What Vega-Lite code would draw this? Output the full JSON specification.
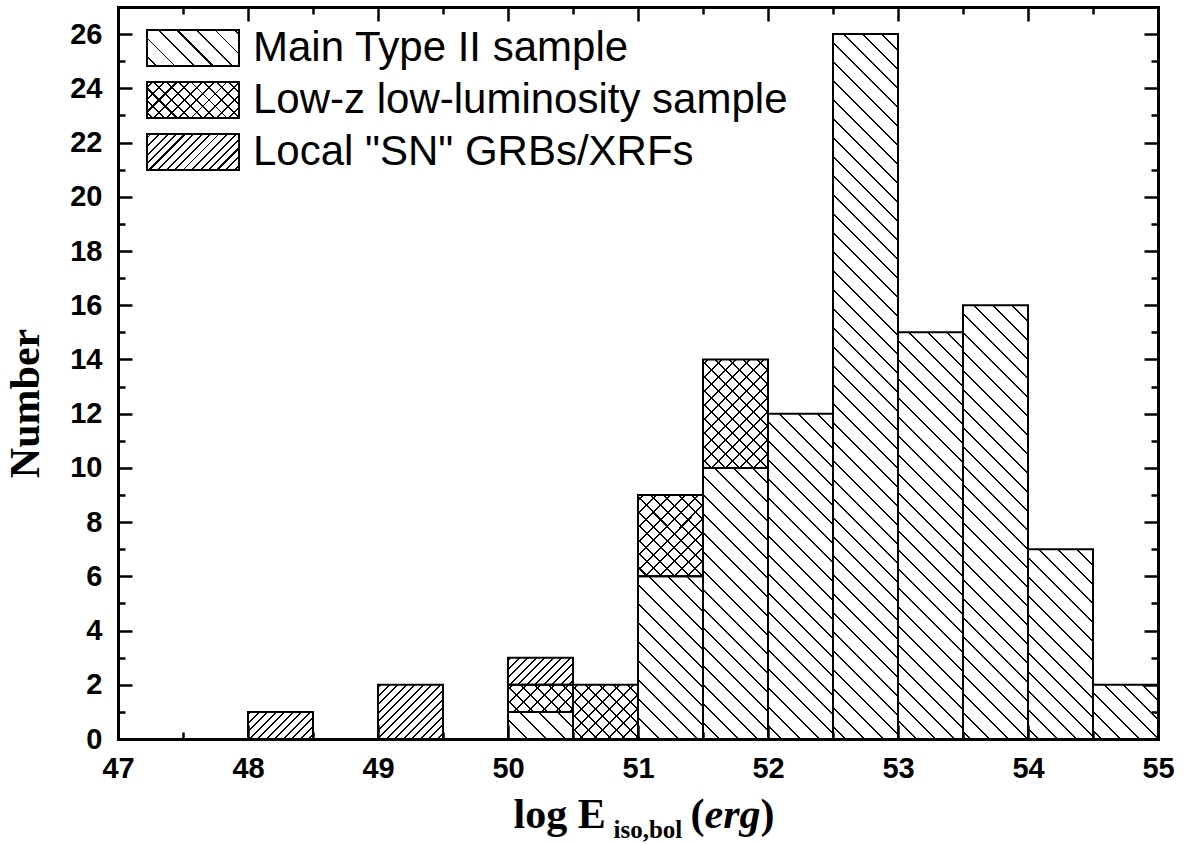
{
  "$schema": "https://vega.github.io/schema/vega-lite/v6.json",
  "width": 1040,
  "height": 732,
  "autosize": {"type": "none"},
  "padding": {"left": 118, "top": 7, "right": 28, "bottom": 105},
  "background": "#ffffff",
  "datasets": {
    "hist": [
      {"lo": 48, "hi": 48.5, "sample": "Local \"SN\" GRBs/XRFs", "count": 1},
      {"lo": 49, "hi": 49.5, "sample": "Local \"SN\" GRBs/XRFs", "count": 2},
      {"lo": 50, "hi": 50.5, "sample": "Main Type II sample", "count": 1},
      {"lo": 50, "hi": 50.5, "sample": "Low-z low-luminosity sample", "count": 1},
      {"lo": 50, "hi": 50.5, "sample": "Local \"SN\" GRBs/XRFs", "count": 1},
      {"lo": 50.5, "hi": 51, "sample": "Low-z low-luminosity sample", "count": 2},
      {"lo": 51, "hi": 51.5, "sample": "Main Type II sample", "count": 6},
      {"lo": 51, "hi": 51.5, "sample": "Low-z low-luminosity sample", "count": 3},
      {"lo": 51.5, "hi": 52, "sample": "Main Type II sample", "count": 10},
      {"lo": 51.5, "hi": 52, "sample": "Low-z low-luminosity sample", "count": 4},
      {"lo": 52, "hi": 52.5, "sample": "Main Type II sample", "count": 12},
      {"lo": 52.5, "hi": 53, "sample": "Main Type II sample", "count": 26},
      {"lo": 53, "hi": 53.5, "sample": "Main Type II sample", "count": 15},
      {"lo": 53.5, "hi": 54, "sample": "Main Type II sample", "count": 16},
      {"lo": 54, "hi": 54.5, "sample": "Main Type II sample", "count": 7},
      {"lo": 54.5, "hi": 55, "sample": "Main Type II sample", "count": 2}
    ]
  },
  "data": {"name": "hist"},
  "transform": [
    {"stack": "count", "groupby": ["lo"], "sort": [{"field": "sample", "order": "descending"}], "as": ["y0", "y1"]}
  ],
  "config": {
    "view": {"stroke": null},
    "axis": {
      "labelFont": "Liberation Sans", "labelFontWeight": "bold", "labelFontSize": 29, "labelColor": "#000",
      "labelFlush": false, "labelOverlap": false,
      "tickColor": "#000", "tickWidth": 2.5,
      "domainColor": "#000", "domainWidth": 3, "domainCap": "square",
      "grid": false,
      "titleFont": "Liberation Serif", "titleFontWeight": "bold", "titleColor": "#000", "titleFontSize": 42
    },
    "legend": {
      "symbolType": "M-1,-0.3913H1V0.3913H-1Z",
      "symbolSize": 8464,
      "symbolStrokeColor": "#000",
      "symbolStrokeWidth": 2,
      "labelFont": "Liberation Sans", "labelFontSize": 42, "labelColor": "#000",
      "labelOffset": 13, "labelLimit": 2000,
      "clipHeight": 40, "rowPadding": 10, "padding": 0
    }
  },
  "resolve": {"scale": {"fill": "independent"}, "axis": {"x": "independent", "y": "independent"}},
  "layer": [
    {
      "transform": [{"filter": {"field": "sample", "equal": "Local \"SN\" GRBs/XRFs"}}],
      "mark": {"type": "bar", "clip": true, "y2Offset": 732,
        "fill": {"gradient": "linear", "x1": 0, "y1": 0, "x2": 0.09593, "y2": 1.08028, "stops": [
          {"offset": 0, "color": "#fff"},
          {"offset": 0.00251, "color": "#fff"}, {"offset": 0.00251, "color": "#000"}, {"offset": 0.00502, "color": "#000"}, {"offset": 0.00502, "color": "#fff"},
          {"offset": 0.01317, "color": "#fff"}, {"offset": 0.01317, "color": "#000"}, {"offset": 0.01568, "color": "#000"}, {"offset": 0.01568, "color": "#fff"},
          {"offset": 0.02384, "color": "#fff"}, {"offset": 0.02384, "color": "#000"}, {"offset": 0.02635, "color": "#000"}, {"offset": 0.02635, "color": "#fff"},
          {"offset": 0.0345, "color": "#fff"}, {"offset": 0.0345, "color": "#000"}, {"offset": 0.03701, "color": "#000"}, {"offset": 0.03701, "color": "#fff"},
          {"offset": 0.04517, "color": "#fff"}, {"offset": 0.04517, "color": "#000"}, {"offset": 0.04768, "color": "#000"}, {"offset": 0.04768, "color": "#fff"},
          {"offset": 0.05583, "color": "#fff"}, {"offset": 0.05583, "color": "#000"}, {"offset": 0.05834, "color": "#000"}, {"offset": 0.05834, "color": "#fff"},
          {"offset": 0.0665, "color": "#fff"}, {"offset": 0.0665, "color": "#000"}, {"offset": 0.06901, "color": "#000"}, {"offset": 0.06901, "color": "#fff"},
          {"offset": 0.07716, "color": "#fff"}, {"offset": 0.07716, "color": "#000"}, {"offset": 0.07967, "color": "#000"}, {"offset": 0.07967, "color": "#fff"},
          {"offset": 0.08783, "color": "#fff"}, {"offset": 0.08783, "color": "#000"}, {"offset": 0.09034, "color": "#000"}, {"offset": 0.09034, "color": "#fff"},
          {"offset": 0.09849, "color": "#fff"}, {"offset": 0.09849, "color": "#000"}, {"offset": 0.101, "color": "#000"}, {"offset": 0.101, "color": "#fff"},
          {"offset": 0.10916, "color": "#fff"}, {"offset": 0.10916, "color": "#000"}, {"offset": 0.11167, "color": "#000"}, {"offset": 0.11167, "color": "#fff"},
          {"offset": 0.11982, "color": "#fff"}, {"offset": 0.11982, "color": "#000"}, {"offset": 0.12233, "color": "#000"}, {"offset": 0.12233, "color": "#fff"},
          {"offset": 0.13049, "color": "#fff"}, {"offset": 0.13049, "color": "#000"}, {"offset": 0.133, "color": "#000"}, {"offset": 0.133, "color": "#fff"},
          {"offset": 0.14115, "color": "#fff"}, {"offset": 0.14115, "color": "#000"}, {"offset": 0.14366, "color": "#000"}, {"offset": 0.14366, "color": "#fff"},
          {"offset": 0.15182, "color": "#fff"}, {"offset": 0.15182, "color": "#000"}, {"offset": 0.15433, "color": "#000"}, {"offset": 0.15433, "color": "#fff"},
          {"offset": 1, "color": "#fff"}
        ]}
      },
      "encoding": {
        "x": {"field": "lo", "type": "quantitative", "scale": {"domain": [47, 55], "nice": false, "zero": false},
          "axis": {"orient": "bottom", "values": [47, 48, 49, 50, 51, 52, 53, 54, 55], "tickSize": -14, "labelPadding": 29, "zindex": 1,
            "title": "log E", "titleX": 395, "titleY": 88, "titleAlign": "left", "titleBaseline": "alphabetic", "titleAngle": 0, "titleFontSize": 42}},
        "x2": {"field": "hi"},
        "y": {"field": "y1", "type": "quantitative", "scale": {"domain": [0, 27], "nice": false, "zero": true},
          "axis": {"orient": "left", "values": [0, 2, 4, 6, 8, 10, 12, 14, 16, 18, 20, 22, 24, 26], "tickSize": -14, "labelPadding": 30, "zindex": 1,
            "title": "Number", "titleX": -80, "titleY": 396, "titleAngle": -90, "titleAlign": "center", "titleBaseline": "alphabetic", "titleFontSize": 42}},
        "y2": {"field": "y1"}
      }
    },
    {
      "transform": [{"filter": {"field": "sample", "equal": "Low-z low-luminosity sample"}}],
      "mark": {"type": "bar", "clip": true, "y2Offset": 732,
        "fill": {"gradient": "linear", "x1": 0, "y1": 1, "x2": 0.09593, "y2": -0.08028, "stops": [
          {"offset": 0, "color": "#fff"},
          {"offset": 0.77415, "color": "#fff"}, {"offset": 0.77415, "color": "#000"}, {"offset": 0.77666, "color": "#000"}, {"offset": 0.77666, "color": "#fff"},
          {"offset": 0.79172, "color": "#fff"}, {"offset": 0.79172, "color": "#000"}, {"offset": 0.79423, "color": "#000"}, {"offset": 0.79423, "color": "#fff"},
          {"offset": 0.80928, "color": "#fff"}, {"offset": 0.80928, "color": "#000"}, {"offset": 0.81179, "color": "#000"}, {"offset": 0.81179, "color": "#fff"},
          {"offset": 0.82685, "color": "#fff"}, {"offset": 0.82685, "color": "#000"}, {"offset": 0.82936, "color": "#000"}, {"offset": 0.82936, "color": "#fff"},
          {"offset": 0.84442, "color": "#fff"}, {"offset": 0.84442, "color": "#000"}, {"offset": 0.84693, "color": "#000"}, {"offset": 0.84693, "color": "#fff"},
          {"offset": 0.86198, "color": "#fff"}, {"offset": 0.86198, "color": "#000"}, {"offset": 0.86449, "color": "#000"}, {"offset": 0.86449, "color": "#fff"},
          {"offset": 0.87955, "color": "#fff"}, {"offset": 0.87955, "color": "#000"}, {"offset": 0.88206, "color": "#000"}, {"offset": 0.88206, "color": "#fff"},
          {"offset": 0.89711, "color": "#fff"}, {"offset": 0.89711, "color": "#000"}, {"offset": 0.89962, "color": "#000"}, {"offset": 0.89962, "color": "#fff"},
          {"offset": 0.91468, "color": "#fff"}, {"offset": 0.91468, "color": "#000"}, {"offset": 0.91719, "color": "#000"}, {"offset": 0.91719, "color": "#fff"},
          {"offset": 0.93225, "color": "#fff"}, {"offset": 0.93225, "color": "#000"}, {"offset": 0.93476, "color": "#000"}, {"offset": 0.93476, "color": "#fff"},
          {"offset": 0.94981, "color": "#fff"}, {"offset": 0.94981, "color": "#000"}, {"offset": 0.95232, "color": "#000"}, {"offset": 0.95232, "color": "#fff"},
          {"offset": 0.96738, "color": "#fff"}, {"offset": 0.96738, "color": "#000"}, {"offset": 0.96989, "color": "#000"}, {"offset": 0.96989, "color": "#fff"},
          {"offset": 0.98494, "color": "#fff"}, {"offset": 0.98494, "color": "#000"}, {"offset": 0.98745, "color": "#000"}, {"offset": 0.98745, "color": "#fff"},
          {"offset": 1, "color": "#fff"}
        ]}
      },
      "encoding": {
        "x": {"field": "lo", "type": "quantitative", "scale": {"domain": [47, 55], "nice": false, "zero": false},
          "axis": {"orient": "bottom", "values": [47.5, 48.5, 49.5, 50.5, 51.5, 52.5, 53.5, 54.5], "tickSize": -7, "labels": false, "domain": false, "zindex": 1,
            "title": "iso,bol", "titleX": 495, "titleY": 98, "titleAlign": "left", "titleBaseline": "alphabetic", "titleAngle": 0, "titleFontSize": 25}},
        "x2": {"field": "hi"},
        "y": {"field": "y1", "type": "quantitative", "scale": {"domain": [0, 27], "nice": false, "zero": true},
          "axis": {"orient": "left", "values": [1, 3, 5, 7, 9, 11, 13, 15, 17, 19, 21, 23, 25], "tickSize": -7, "labels": false, "domain": false, "zindex": 1, "title": null}},
        "y2": {"field": "y1"}
      }
    },
    {
      "transform": [{"filter": {"field": "sample", "equal": "Low-z low-luminosity sample"}}],
      "mark": {"type": "bar", "clip": true, "y2Offset": 732,
        "fill": {"gradient": "linear", "x1": 0, "y1": 0, "x2": 0.09593, "y2": 1.08028, "stops": [
          {"offset": 0, "color": "rgba(0,0,0,0)"},
          {"offset": 0.00502, "color": "rgba(0,0,0,0)"}, {"offset": 0.00502, "color": "#000"}, {"offset": 0.00753, "color": "#000"}, {"offset": 0.00753, "color": "rgba(0,0,0,0)"},
          {"offset": 0.02258, "color": "rgba(0,0,0,0)"}, {"offset": 0.02258, "color": "#000"}, {"offset": 0.02509, "color": "#000"}, {"offset": 0.02509, "color": "rgba(0,0,0,0)"},
          {"offset": 0.04015, "color": "rgba(0,0,0,0)"}, {"offset": 0.04015, "color": "#000"}, {"offset": 0.04266, "color": "#000"}, {"offset": 0.04266, "color": "rgba(0,0,0,0)"},
          {"offset": 0.05772, "color": "rgba(0,0,0,0)"}, {"offset": 0.05772, "color": "#000"}, {"offset": 0.06023, "color": "#000"}, {"offset": 0.06023, "color": "rgba(0,0,0,0)"},
          {"offset": 0.07528, "color": "rgba(0,0,0,0)"}, {"offset": 0.07528, "color": "#000"}, {"offset": 0.07779, "color": "#000"}, {"offset": 0.07779, "color": "rgba(0,0,0,0)"},
          {"offset": 0.09285, "color": "rgba(0,0,0,0)"}, {"offset": 0.09285, "color": "#000"}, {"offset": 0.09536, "color": "#000"}, {"offset": 0.09536, "color": "rgba(0,0,0,0)"},
          {"offset": 0.11041, "color": "rgba(0,0,0,0)"}, {"offset": 0.11041, "color": "#000"}, {"offset": 0.11292, "color": "#000"}, {"offset": 0.11292, "color": "rgba(0,0,0,0)"},
          {"offset": 0.12798, "color": "rgba(0,0,0,0)"}, {"offset": 0.12798, "color": "#000"}, {"offset": 0.13049, "color": "#000"}, {"offset": 0.13049, "color": "rgba(0,0,0,0)"},
          {"offset": 0.14555, "color": "rgba(0,0,0,0)"}, {"offset": 0.14555, "color": "#000"}, {"offset": 0.14806, "color": "#000"}, {"offset": 0.14806, "color": "rgba(0,0,0,0)"},
          {"offset": 0.16311, "color": "rgba(0,0,0,0)"}, {"offset": 0.16311, "color": "#000"}, {"offset": 0.16562, "color": "#000"}, {"offset": 0.16562, "color": "rgba(0,0,0,0)"},
          {"offset": 0.18068, "color": "rgba(0,0,0,0)"}, {"offset": 0.18068, "color": "#000"}, {"offset": 0.18319, "color": "#000"}, {"offset": 0.18319, "color": "rgba(0,0,0,0)"},
          {"offset": 0.19824, "color": "rgba(0,0,0,0)"}, {"offset": 0.19824, "color": "#000"}, {"offset": 0.20075, "color": "#000"}, {"offset": 0.20075, "color": "rgba(0,0,0,0)"},
          {"offset": 0.21581, "color": "rgba(0,0,0,0)"}, {"offset": 0.21581, "color": "#000"}, {"offset": 0.21832, "color": "#000"}, {"offset": 0.21832, "color": "rgba(0,0,0,0)"},
          {"offset": 1, "color": "rgba(0,0,0,0)"}
        ]}
      },
      "encoding": {
        "x": {"field": "lo", "type": "quantitative", "scale": {"domain": [47, 55], "nice": false, "zero": false},
          "axis": {"orient": "top", "values": [47, 48, 49, 50, 51, 52, 53, 54, 55], "tickSize": -14, "labels": false, "zindex": 1,
            "title": "(", "titleX": 572, "titleY": 820, "titleAlign": "left", "titleBaseline": "alphabetic", "titleAngle": 0, "titleFontSize": 42}},
        "x2": {"field": "hi"},
        "y": {"field": "y1", "type": "quantitative", "scale": {"domain": [0, 27], "nice": false, "zero": true},
          "axis": {"orient": "right", "values": [0, 2, 4, 6, 8, 10, 12, 14, 16, 18, 20, 22, 24, 26], "tickSize": -14, "labels": false, "zindex": 1, "title": null}},
        "y2": {"field": "y1"}
      }
    },
    {
      "transform": [{"filter": {"field": "sample", "equal": "Main Type II sample"}}],
      "mark": {"type": "bar", "clip": true, "y2Offset": 732,
        "fill": {"gradient": "linear", "x1": 0, "y1": 1, "x2": 0.09593, "y2": -0.08028, "stops": [
          {"offset": 0, "color": "#fff"},
          {"offset": 0.00125, "color": "#fff"}, {"offset": 0.00125, "color": "#000"}, {"offset": 0.00376, "color": "#000"}, {"offset": 0.00376, "color": "#fff"},
          {"offset": 0.02509, "color": "#fff"}, {"offset": 0.02509, "color": "#000"}, {"offset": 0.0276, "color": "#000"}, {"offset": 0.0276, "color": "#fff"},
          {"offset": 0.04893, "color": "#fff"}, {"offset": 0.04893, "color": "#000"}, {"offset": 0.05144, "color": "#000"}, {"offset": 0.05144, "color": "#fff"},
          {"offset": 0.07277, "color": "#fff"}, {"offset": 0.07277, "color": "#000"}, {"offset": 0.07528, "color": "#000"}, {"offset": 0.07528, "color": "#fff"},
          {"offset": 0.09661, "color": "#fff"}, {"offset": 0.09661, "color": "#000"}, {"offset": 0.09912, "color": "#000"}, {"offset": 0.09912, "color": "#fff"},
          {"offset": 0.12045, "color": "#fff"}, {"offset": 0.12045, "color": "#000"}, {"offset": 0.12296, "color": "#000"}, {"offset": 0.12296, "color": "#fff"},
          {"offset": 0.14429, "color": "#fff"}, {"offset": 0.14429, "color": "#000"}, {"offset": 0.1468, "color": "#000"}, {"offset": 0.1468, "color": "#fff"},
          {"offset": 0.16813, "color": "#fff"}, {"offset": 0.16813, "color": "#000"}, {"offset": 0.17064, "color": "#000"}, {"offset": 0.17064, "color": "#fff"},
          {"offset": 0.19197, "color": "#fff"}, {"offset": 0.19197, "color": "#000"}, {"offset": 0.19448, "color": "#000"}, {"offset": 0.19448, "color": "#fff"},
          {"offset": 0.21581, "color": "#fff"}, {"offset": 0.21581, "color": "#000"}, {"offset": 0.21832, "color": "#000"}, {"offset": 0.21832, "color": "#fff"},
          {"offset": 0.23965, "color": "#fff"}, {"offset": 0.23965, "color": "#000"}, {"offset": 0.24216, "color": "#000"}, {"offset": 0.24216, "color": "#fff"},
          {"offset": 0.26349, "color": "#fff"}, {"offset": 0.26349, "color": "#000"}, {"offset": 0.266, "color": "#000"}, {"offset": 0.266, "color": "#fff"},
          {"offset": 0.28733, "color": "#fff"}, {"offset": 0.28733, "color": "#000"}, {"offset": 0.28984, "color": "#000"}, {"offset": 0.28984, "color": "#fff"},
          {"offset": 0.31117, "color": "#fff"}, {"offset": 0.31117, "color": "#000"}, {"offset": 0.31368, "color": "#000"}, {"offset": 0.31368, "color": "#fff"},
          {"offset": 0.33501, "color": "#fff"}, {"offset": 0.33501, "color": "#000"}, {"offset": 0.33752, "color": "#000"}, {"offset": 0.33752, "color": "#fff"},
          {"offset": 0.35885, "color": "#fff"}, {"offset": 0.35885, "color": "#000"}, {"offset": 0.36136, "color": "#000"}, {"offset": 0.36136, "color": "#fff"},
          {"offset": 0.38269, "color": "#fff"}, {"offset": 0.38269, "color": "#000"}, {"offset": 0.38519, "color": "#000"}, {"offset": 0.38519, "color": "#fff"},
          {"offset": 0.40652, "color": "#fff"}, {"offset": 0.40652, "color": "#000"}, {"offset": 0.40903, "color": "#000"}, {"offset": 0.40903, "color": "#fff"},
          {"offset": 0.43036, "color": "#fff"}, {"offset": 0.43036, "color": "#000"}, {"offset": 0.43287, "color": "#000"}, {"offset": 0.43287, "color": "#fff"},
          {"offset": 0.4542, "color": "#fff"}, {"offset": 0.4542, "color": "#000"}, {"offset": 0.45671, "color": "#000"}, {"offset": 0.45671, "color": "#fff"},
          {"offset": 0.47804, "color": "#fff"}, {"offset": 0.47804, "color": "#000"}, {"offset": 0.48055, "color": "#000"}, {"offset": 0.48055, "color": "#fff"},
          {"offset": 0.50188, "color": "#fff"}, {"offset": 0.50188, "color": "#000"}, {"offset": 0.50439, "color": "#000"}, {"offset": 0.50439, "color": "#fff"},
          {"offset": 0.52572, "color": "#fff"}, {"offset": 0.52572, "color": "#000"}, {"offset": 0.52823, "color": "#000"}, {"offset": 0.52823, "color": "#fff"},
          {"offset": 0.54956, "color": "#fff"}, {"offset": 0.54956, "color": "#000"}, {"offset": 0.55207, "color": "#000"}, {"offset": 0.55207, "color": "#fff"},
          {"offset": 0.5734, "color": "#fff"}, {"offset": 0.5734, "color": "#000"}, {"offset": 0.57591, "color": "#000"}, {"offset": 0.57591, "color": "#fff"},
          {"offset": 0.59724, "color": "#fff"}, {"offset": 0.59724, "color": "#000"}, {"offset": 0.59975, "color": "#000"}, {"offset": 0.59975, "color": "#fff"},
          {"offset": 0.62108, "color": "#fff"}, {"offset": 0.62108, "color": "#000"}, {"offset": 0.62359, "color": "#000"}, {"offset": 0.62359, "color": "#fff"},
          {"offset": 0.64492, "color": "#fff"}, {"offset": 0.64492, "color": "#000"}, {"offset": 0.64743, "color": "#000"}, {"offset": 0.64743, "color": "#fff"},
          {"offset": 0.66876, "color": "#fff"}, {"offset": 0.66876, "color": "#000"}, {"offset": 0.67127, "color": "#000"}, {"offset": 0.67127, "color": "#fff"},
          {"offset": 0.6926, "color": "#fff"}, {"offset": 0.6926, "color": "#000"}, {"offset": 0.69511, "color": "#000"}, {"offset": 0.69511, "color": "#fff"},
          {"offset": 0.71644, "color": "#fff"}, {"offset": 0.71644, "color": "#000"}, {"offset": 0.71895, "color": "#000"}, {"offset": 0.71895, "color": "#fff"},
          {"offset": 0.74028, "color": "#fff"}, {"offset": 0.74028, "color": "#000"}, {"offset": 0.74279, "color": "#000"}, {"offset": 0.74279, "color": "#fff"},
          {"offset": 0.76412, "color": "#fff"}, {"offset": 0.76412, "color": "#000"}, {"offset": 0.76663, "color": "#000"}, {"offset": 0.76663, "color": "#fff"},
          {"offset": 0.78795, "color": "#fff"}, {"offset": 0.78795, "color": "#000"}, {"offset": 0.79046, "color": "#000"}, {"offset": 0.79046, "color": "#fff"},
          {"offset": 0.81179, "color": "#fff"}, {"offset": 0.81179, "color": "#000"}, {"offset": 0.8143, "color": "#000"}, {"offset": 0.8143, "color": "#fff"},
          {"offset": 0.83563, "color": "#fff"}, {"offset": 0.83563, "color": "#000"}, {"offset": 0.83814, "color": "#000"}, {"offset": 0.83814, "color": "#fff"},
          {"offset": 0.85947, "color": "#fff"}, {"offset": 0.85947, "color": "#000"}, {"offset": 0.86198, "color": "#000"}, {"offset": 0.86198, "color": "#fff"},
          {"offset": 0.88331, "color": "#fff"}, {"offset": 0.88331, "color": "#000"}, {"offset": 0.88582, "color": "#000"}, {"offset": 0.88582, "color": "#fff"},
          {"offset": 0.90715, "color": "#fff"}, {"offset": 0.90715, "color": "#000"}, {"offset": 0.90966, "color": "#000"}, {"offset": 0.90966, "color": "#fff"},
          {"offset": 0.93099, "color": "#fff"}, {"offset": 0.93099, "color": "#000"}, {"offset": 0.9335, "color": "#000"}, {"offset": 0.9335, "color": "#fff"},
          {"offset": 0.95483, "color": "#fff"}, {"offset": 0.95483, "color": "#000"}, {"offset": 0.95734, "color": "#000"}, {"offset": 0.95734, "color": "#fff"},
          {"offset": 0.97867, "color": "#fff"}, {"offset": 0.97867, "color": "#000"}, {"offset": 0.98118, "color": "#000"}, {"offset": 0.98118, "color": "#fff"},
          {"offset": 1, "color": "#fff"}
        ]}
      },
      "encoding": {
        "x": {"field": "lo", "type": "quantitative", "scale": {"domain": [47, 55], "nice": false, "zero": false},
          "axis": {"orient": "top", "values": [47.5, 48.5, 49.5, 50.5, 51.5, 52.5, 53.5, 54.5], "tickSize": -7, "labels": false, "domain": false, "zindex": 1,
            "title": "erg", "titleX": 586, "titleY": 820, "titleAlign": "left", "titleBaseline": "alphabetic", "titleAngle": 0, "titleFontSize": 42, "titleFontStyle": "italic"}},
        "x2": {"field": "hi"},
        "y": {"field": "y1", "type": "quantitative", "scale": {"domain": [0, 27], "nice": false, "zero": true},
          "axis": {"orient": "right", "values": [1, 3, 5, 7, 9, 11, 13, 15, 17, 19, 21, 23, 25], "tickSize": -7, "labels": false, "domain": false, "zindex": 1,
            "title": ")", "titleX": -398, "titleY": 820, "titleAlign": "left", "titleBaseline": "alphabetic", "titleAngle": 0, "titleFontSize": 42}},
        "y2": {"field": "y1"}
      }
    },
    {
      "mark": {"type": "bar", "fill": "transparent", "stroke": "#000", "strokeWidth": 2},
      "encoding": {
        "x": {"field": "lo", "type": "quantitative", "scale": {"domain": [47, 55], "nice": false, "zero": false}, "axis": null},
        "x2": {"field": "hi"},
        "y": {"field": "y0", "type": "quantitative", "scale": {"domain": [0, 27], "nice": false, "zero": true}, "axis": null},
        "y2": {"field": "y1"}
      }
    },
    {
      "transform": [{"filter": {"field": "count", "lt": 0}}],
      "mark": {"type": "bar"},
      "encoding": {
        "x": {"field": "lo", "type": "quantitative", "scale": {"domain": [47, 55], "nice": false, "zero": false}, "axis": null},
        "x2": {"field": "hi"},
        "y": {"field": "y0", "type": "quantitative", "scale": {"domain": [0, 27], "nice": false, "zero": true}, "axis": null},
        "y2": {"field": "y1"},
        "fill": {"field": "sample", "type": "nominal",
          "scale": {"domain": ["Main Type II sample", "Low-z low-luminosity sample", "Local \"SN\" GRBs/XRFs"],
            "range": [
              {"expr": "{gradient:'linear',x1:0,y1:1,x2:1.20656,y2:0.52787,stops:[{offset:0,color:'#fff'},{offset:0.0625,color:'#fff'},{offset:0.0625,color:'#000'},{offset:0.07813,color:'#000'},{offset:0.07813,color:'#fff'},{offset:0.21094,color:'#fff'},{offset:0.21094,color:'#000'},{offset:0.22656,color:'#000'},{offset:0.22656,color:'#fff'},{offset:0.35938,color:'#fff'},{offset:0.35938,color:'#000'},{offset:0.375,color:'#000'},{offset:0.375,color:'#fff'},{offset:0.50781,color:'#fff'},{offset:0.50781,color:'#000'},{offset:0.52344,color:'#000'},{offset:0.52344,color:'#fff'},{offset:0.65625,color:'#fff'},{offset:0.65625,color:'#000'},{offset:0.67188,color:'#000'},{offset:0.67188,color:'#fff'},{offset:0.80469,color:'#fff'},{offset:0.80469,color:'#000'},{offset:0.82031,color:'#000'},{offset:0.82031,color:'#fff'},{offset:0.95313,color:'#fff'},{offset:0.95313,color:'#000'},{offset:0.96875,color:'#000'},{offset:0.96875,color:'#fff'},{offset:1,color:'#fff'}]}"},
              {"expr": "{gradient:'linear',x1:0,y1:1,x2:1.20656,y2:0.52787,stops:[{offset:0,color:'#fff'},{offset:0.03125,color:'#fff'},{offset:0.03125,color:'#000'},{offset:0.04688,color:'#000'},{offset:0.04688,color:'#fff'},{offset:0.12891,color:'#fff'},{offset:0.12891,color:'#000'},{offset:0.14453,color:'#000'},{offset:0.14453,color:'#fff'},{offset:0.22656,color:'#fff'},{offset:0.22656,color:'#000'},{offset:0.24219,color:'#000'},{offset:0.24219,color:'#fff'},{offset:0.32422,color:'#fff'},{offset:0.32422,color:'#000'},{offset:0.33984,color:'#000'},{offset:0.33984,color:'#fff'},{offset:0.42188,color:'#fff'},{offset:0.42188,color:'#000'},{offset:0.4375,color:'#000'},{offset:0.4375,color:'#fff'},{offset:0.51953,color:'#fff'},{offset:0.51953,color:'#000'},{offset:0.53516,color:'#000'},{offset:0.53516,color:'#fff'},{offset:0.61719,color:'#fff'},{offset:0.61719,color:'#000'},{offset:0.63281,color:'#000'},{offset:0.63281,color:'#fff'},{offset:0.71484,color:'#fff'},{offset:0.71484,color:'#000'},{offset:0.73047,color:'#000'},{offset:0.73047,color:'#fff'},{offset:0.8125,color:'#fff'},{offset:0.8125,color:'#000'},{offset:0.82813,color:'#000'},{offset:0.82813,color:'#fff'},{offset:0.91016,color:'#fff'},{offset:0.91016,color:'#000'},{offset:0.92578,color:'#000'},{offset:0.92578,color:'#fff'},{offset:1,color:'#fff'}]}"},
              {"expr": "{gradient:'linear',x1:0,y1:0,x2:1.20656,y2:0.47213,stops:[{offset:0,color:'#fff'},{offset:0.02344,color:'#fff'},{offset:0.02344,color:'#000'},{offset:0.03906,color:'#000'},{offset:0.03906,color:'#fff'},{offset:0.08984,color:'#fff'},{offset:0.08984,color:'#000'},{offset:0.10547,color:'#000'},{offset:0.10547,color:'#fff'},{offset:0.15625,color:'#fff'},{offset:0.15625,color:'#000'},{offset:0.17188,color:'#000'},{offset:0.17188,color:'#fff'},{offset:0.22266,color:'#fff'},{offset:0.22266,color:'#000'},{offset:0.23828,color:'#000'},{offset:0.23828,color:'#fff'},{offset:0.28906,color:'#fff'},{offset:0.28906,color:'#000'},{offset:0.30469,color:'#000'},{offset:0.30469,color:'#fff'},{offset:0.35547,color:'#fff'},{offset:0.35547,color:'#000'},{offset:0.37109,color:'#000'},{offset:0.37109,color:'#fff'},{offset:0.42188,color:'#fff'},{offset:0.42188,color:'#000'},{offset:0.4375,color:'#000'},{offset:0.4375,color:'#fff'},{offset:0.48828,color:'#fff'},{offset:0.48828,color:'#000'},{offset:0.50391,color:'#000'},{offset:0.50391,color:'#fff'},{offset:0.55469,color:'#fff'},{offset:0.55469,color:'#000'},{offset:0.57031,color:'#000'},{offset:0.57031,color:'#fff'},{offset:0.62109,color:'#fff'},{offset:0.62109,color:'#000'},{offset:0.63672,color:'#000'},{offset:0.63672,color:'#fff'},{offset:0.6875,color:'#fff'},{offset:0.6875,color:'#000'},{offset:0.70313,color:'#000'},{offset:0.70313,color:'#fff'},{offset:0.75391,color:'#fff'},{offset:0.75391,color:'#000'},{offset:0.76953,color:'#000'},{offset:0.76953,color:'#fff'},{offset:0.82031,color:'#fff'},{offset:0.82031,color:'#000'},{offset:0.83594,color:'#000'},{offset:0.83594,color:'#fff'},{offset:0.88672,color:'#fff'},{offset:0.88672,color:'#000'},{offset:0.90234,color:'#000'},{offset:0.90234,color:'#fff'},{offset:0.95313,color:'#fff'},{offset:0.95313,color:'#000'},{offset:0.96875,color:'#000'},{offset:0.96875,color:'#fff'},{offset:1,color:'#fff'}]}"}
            ]},
          "legend": {"orient": "none", "legendX": 28, "legendY": 21, "direction": "vertical", "title": null}
        }
      }
    },
    {
      "transform": [{"filter": {"field": "count", "lt": 0}}],
      "mark": {"type": "bar"},
      "encoding": {
        "x": {"field": "lo", "type": "quantitative", "scale": {"domain": [47, 55], "nice": false, "zero": false}, "axis": null},
        "x2": {"field": "hi"},
        "y": {"field": "y0", "type": "quantitative", "scale": {"domain": [0, 27], "nice": false, "zero": true}, "axis": null},
        "y2": {"field": "y1"},
        "fill": {"field": "sample", "type": "nominal",
          "scale": {"domain": ["Main Type II sample", "Low-z low-luminosity sample", "Local \"SN\" GRBs/XRFs"],
            "range": [
              "rgba(0,0,0,0)",
              {"expr": "{gradient:'linear',x1:0,y1:0,x2:1.20656,y2:0.47213,stops:[{offset:0,color:'rgba(0,0,0,0)'},{offset:0.03125,color:'rgba(0,0,0,0)'},{offset:0.03125,color:'#000'},{offset:0.04688,color:'#000'},{offset:0.04688,color:'rgba(0,0,0,0)'},{offset:0.12891,color:'rgba(0,0,0,0)'},{offset:0.12891,color:'#000'},{offset:0.14453,color:'#000'},{offset:0.14453,color:'rgba(0,0,0,0)'},{offset:0.22656,color:'rgba(0,0,0,0)'},{offset:0.22656,color:'#000'},{offset:0.24219,color:'#000'},{offset:0.24219,color:'rgba(0,0,0,0)'},{offset:0.32422,color:'rgba(0,0,0,0)'},{offset:0.32422,color:'#000'},{offset:0.33984,color:'#000'},{offset:0.33984,color:'rgba(0,0,0,0)'},{offset:0.42188,color:'rgba(0,0,0,0)'},{offset:0.42188,color:'#000'},{offset:0.4375,color:'#000'},{offset:0.4375,color:'rgba(0,0,0,0)'},{offset:0.51953,color:'rgba(0,0,0,0)'},{offset:0.51953,color:'#000'},{offset:0.53516,color:'#000'},{offset:0.53516,color:'rgba(0,0,0,0)'},{offset:0.61719,color:'rgba(0,0,0,0)'},{offset:0.61719,color:'#000'},{offset:0.63281,color:'#000'},{offset:0.63281,color:'rgba(0,0,0,0)'},{offset:0.71484,color:'rgba(0,0,0,0)'},{offset:0.71484,color:'#000'},{offset:0.73047,color:'#000'},{offset:0.73047,color:'rgba(0,0,0,0)'},{offset:0.8125,color:'rgba(0,0,0,0)'},{offset:0.8125,color:'#000'},{offset:0.82813,color:'#000'},{offset:0.82813,color:'rgba(0,0,0,0)'},{offset:0.91016,color:'rgba(0,0,0,0)'},{offset:0.91016,color:'#000'},{offset:0.92578,color:'#000'},{offset:0.92578,color:'rgba(0,0,0,0)'},{offset:1,color:'rgba(0,0,0,0)'}]}"},
              "rgba(0,0,0,0)"
            ]},
          "legend": {"orient": "none", "legendX": 28, "legendY": 21, "direction": "vertical", "title": null, "labelOpacity": 0}
        }
      }
    }
  ]
}
